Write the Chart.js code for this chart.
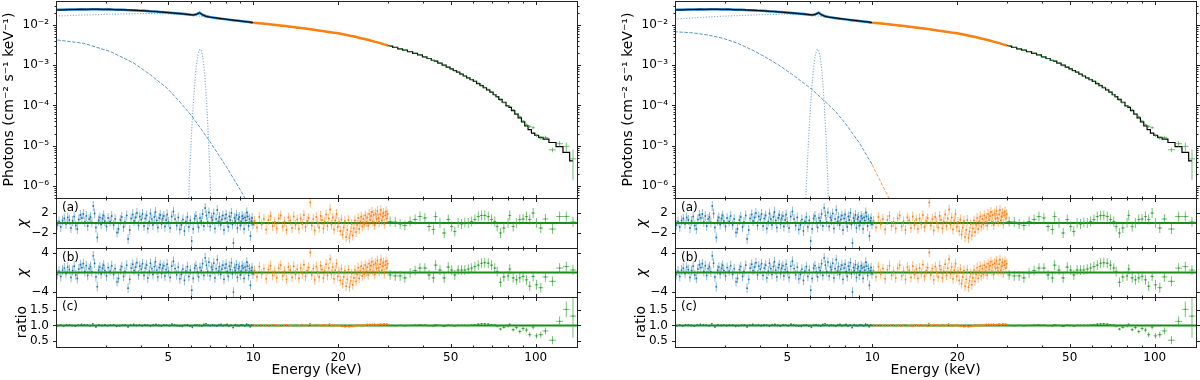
<!DOCTYPE html>
<html>
<head>
<meta charset="utf-8">
<title>Spectral fits</title>
<script src="https://cdn.jsdelivr.net/npm/chart.js@4.4.1/dist/chart.umd.min.js"></script>
<style>
  html, body { margin: 0; padding: 0; background: #fff; }
  #fig { position: relative; width: 1200px; height: 380px; overflow: hidden; }
  #fig canvas { position: absolute; }
</style>
</head>
<body>
<div id="fig"></div>
<script>
// ---- axes ----
const xMin = 2.0, xMax = 140;
const xTicks = [5, 10, 20, 50, 100];
const xTickLabels = ['5', '10', '20', '50', '100'];
const xMinorTicks = [3, 4, 6, 7, 8, 9, 30, 40, 60, 70, 80, 90];

const fluxMin = 5.0e-7, fluxMax = 0.0395;
const fluxTicks = [1e-6, 1e-5, 1e-4, 1e-3, 1e-2];
const fluxTickLabels = ['10⁻⁶', '10⁻⁵', '10⁻⁴', '10⁻³', '10⁻²'];
const chiTicksA = [-2, 2], chiLabelsA = ['−2', '2'];
const chiTicksB = [-4, 4], chiLabelsB = ['−4', '4'];
const ratioTicks = [0.5, 1.0, 1.5], ratioLabels = ['0.5', '1.0', '1.5'];

// ---- total model (both fits) ----
const modelE = [2.0, 2.3, 2.6, 3.0, 3.5, 4.0, 4.5, 5.0, 5.5, 5.9, 6.15, 6.3, 6.45, 6.6, 6.8, 7.0, 7.5, 8.0, 9.0, 10.0, 12.0, 15.0, 20.0, 25.0, 30.5];
const modelFlux = [0.0235, 0.0242, 0.0246, 0.0245, 0.0238, 0.0228, 0.0216, 0.0203, 0.0192, 0.0183, 0.0178, 0.0186, 0.0200, 0.0180, 0.0164, 0.0157, 0.0148, 0.0139, 0.0126, 0.0115, 0.0099, 0.0082, 0.0062, 0.0044, 0.0030];

// unfolded data, soft band
const blueSpecE = [2.02, 2.12, 2.22, 2.33, 2.44, 2.56, 2.68, 2.81, 2.95, 3.09, 3.24, 3.40, 3.56, 3.73, 3.91, 4.10, 4.30, 4.51, 4.73, 4.96, 5.20, 5.45, 5.71, 5.99, 6.15, 6.30, 6.45, 6.60, 6.80, 7.05, 7.35, 7.70, 8.05, 8.45, 8.85, 9.25, 9.65, 9.95];
const blueSpecFlux = [0.0238, 0.0240, 0.0243, 0.0242, 0.0247, 0.0244, 0.0248, 0.0246, 0.0244, 0.0245, 0.0241, 0.0240, 0.0236, 0.0234, 0.0229, 0.0226, 0.0220, 0.0216, 0.0209, 0.0204, 0.0198, 0.0193, 0.0188, 0.0181, 0.0178, 0.0186, 0.0201, 0.0180, 0.0165, 0.0157, 0.0150, 0.0143, 0.0138, 0.0132, 0.0127, 0.0122, 0.0118, 0.0114];
const orangeSpecE = [10, 11, 12, 13, 14, 15, 16, 17, 18, 19, 20, 21, 22, 23, 24, 25, 26, 27, 28, 29, 30];
const orangeSpecFlux = [0.0114, 0.0107, 0.0100, 0.0094, 0.0088, 0.0083, 0.0078, 0.0073, 0.0069, 0.0065, 0.0062, 0.0058, 0.0054, 0.0051, 0.0047, 0.0044, 0.0041, 0.0038, 0.0036, 0.0033, 0.0031];

// hard band bins
const greenE = [30.5, 31.8, 33.1, 34.4, 35.9, 37.4, 38.9, 40.5, 41.9, 43.4, 44.2, 45.8, 47.4, 49.0, 50.4, 51.7, 53.1, 54.6, 56.1, 57.7, 59.3, 60.9, 62.6, 64.3, 66.0, 67.9, 69.7, 71.6, 73.0, 75.0, 77.1, 79.8, 80.9, 83.2, 85.4, 87.8, 90.2, 92.7, 95.2, 97.9, 100.6, 104.2, 108.2, 114.6, 121.5, 128.3, 135.5];
const greenXerr = [0.62, 0.64, 0.66, 0.68, 0.70, 0.73, 0.76, 0.78, 0.75, 0.65, 0.75, 0.80, 0.82, 0.80, 0.70, 0.70, 0.72, 0.75, 0.78, 0.80, 0.82, 0.85, 0.85, 0.88, 0.90, 0.95, 0.95, 0.85, 0.90, 1.00, 1.20, 0.80, 0.90, 1.15, 1.20, 1.20, 1.25, 1.25, 1.30, 1.40, 1.50, 2.00, 2.60, 3.30, 3.40, 3.40, 3.60];
const greenModel = [3.0e-3, 2.78e-3, 2.56e-3, 2.37e-3, 2.17e-3, 1.98e-3, 1.80e-3, 1.62e-3, 1.47e-3, 1.33e-3, 1.26e-3, 1.13e-3, 1.01e-3, 9.0e-4, 8.1e-4, 7.4e-4, 6.7e-4, 6.0e-4, 5.4e-4, 4.85e-4, 4.4e-4, 3.95e-4, 3.5e-4, 3.1e-4, 2.75e-4, 2.45e-4, 2.15e-4, 1.85e-4, 1.65e-4, 1.42e-4, 1.2e-4, 9.8e-5, 9.0e-5, 7.4e-5, 6.1e-5, 4.9e-5, 3.9e-5, 3.1e-5, 2.5e-5, 2.05e-5, 1.8e-5, 1.6e-5, 1.45e-5, 1.2e-5, 9.5e-6, 6.8e-6, 4.2e-6];
const greenFlux = [3.02e-3, 2.77e-3, 2.55e-3, 2.35e-3, 2.18e-3, 2.0e-3, 1.83e-3, 1.63e-3, 1.45e-3, 1.30e-3, 1.29e-3, 1.13e-3, 0.97e-3, 9.1e-4, 8.0e-4, 7.2e-4, 6.7e-4, 6.0e-4, 5.4e-4, 4.85e-4, 4.42e-4, 4.0e-4, 3.6e-4, 3.2e-4, 2.85e-4, 2.52e-4, 2.18e-4, 1.87e-4, 1.63e-4, 1.36e-4, 1.17e-4, 9.8e-5, 9.4e-5, 7.8e-5, 6.1e-5, 5.3e-5, 4.1e-5, 3.3e-5, 3.0e-5, 2.8e-5, 1.8e-5, 1.55e-5, 1.6e-5, 7.9e-6, 1.12e-5, 9.6e-6, 4.7e-6];

// model components, left fit / right fit
const contE = [2.0, 2.5, 3.0, 3.5, 4.0, 4.5, 5.0, 5.5, 6.0, 7.0, 8.0, 10.0];
const contFluxL = [0.0167, 0.0177, 0.0184, 0.0189, 0.0192, 0.0192, 0.0190, 0.0185, 0.0176, 0.0155, 0.0138, 0.0114];
const contFluxR = [0.0141, 0.0155, 0.0166, 0.0174, 0.0180, 0.0184, 0.0186, 0.0183, 0.0176, 0.0155, 0.0138, 0.0114];
const softEL = [2.02, 2.51, 3.12, 3.78, 4.32, 4.95, 5.5, 6.07, 6.95, 8.07, 9.12, 9.4];
const softFluxL = [4.24e-3, 3.5e-3, 2.18e-3, 1.12e-3, 5.75e-4, 2.68e-4, 1.21e-4, 5.3e-5, 1.4e-5, 2.8e-6, 6.7e-7, 4.5e-7];
const softER = [1.99, 2.3, 2.61, 2.95, 3.34, 3.75, 4.16, 4.65, 5.17, 6.10, 6.80, 7.4, 8.02, 9.0, 9.98];
const softFluxR = [6.8e-3, 6.4e-3, 5.65e-3, 4.7e-3, 3.5e-3, 2.4e-3, 1.63e-3, 1.02e-3, 6.1e-4, 2.53e-4, 1.25e-4, 7.1e-5, 3.6e-5, 1.16e-5, 3.4e-6];
const softHardER = [9.98, 11.5];
const softHardFluxR = [3.4e-6, 4.6e-7];
const lineEL = [5.86, 5.93, 6.03, 6.13, 6.23, 6.28, 6.33, 6.38, 6.43, 6.48, 6.53, 6.58, 6.63, 6.68, 6.73, 6.83, 6.93, 7.03, 7.10];
const lineER = [5.78, 5.85, 5.95, 6.05, 6.15, 6.20, 6.25, 6.30, 6.35, 6.40, 6.45, 6.50, 6.55, 6.60, 6.65, 6.75, 6.85, 6.95, 7.02];
const lineFlux = [1.9e-7, 1.4e-6, 1.67e-5, 1.2e-4, 5.3e-4, 9.3e-4, 1.43e-3, 1.95e-3, 2.35e-3, 2.5e-3, 2.35e-3, 1.95e-3, 1.43e-3, 9.3e-4, 5.3e-4, 1.2e-4, 1.67e-5, 1.4e-6, 1.9e-7];

// ---- residuals (chi: panels a, b) ----
const blueE = [2.02, 2.05, 2.08, 2.11, 2.14, 2.17, 2.20, 2.23, 2.26, 2.29, 2.32, 2.35, 2.38, 2.41, 2.44, 2.47, 2.50, 2.53, 2.56, 2.59, 2.62, 2.65, 2.68, 2.71, 2.74, 2.77, 2.80, 2.83, 2.86, 2.89, 2.92, 2.95, 2.98,
  3.02, 3.06, 3.11, 3.15, 3.20, 3.24, 3.29, 3.33, 3.38, 3.42, 3.47, 3.51, 3.56, 3.60, 3.65, 3.69, 3.74, 3.78, 3.83, 3.87, 3.92, 3.96, 4.01, 4.05, 4.10, 4.14, 4.19, 4.23, 4.28, 4.32, 4.37, 4.41, 4.46, 4.50, 4.55, 4.59, 4.64, 4.68, 4.73, 4.77, 4.82, 4.86, 4.91, 4.95,
  5.00, 5.07, 5.14, 5.21, 5.28, 5.35, 5.42, 5.49, 5.56, 5.63, 5.70, 5.77, 5.84, 5.91, 5.98, 6.05, 6.12, 6.19, 6.26, 6.33, 6.40, 6.47, 6.54, 6.61, 6.68, 6.75, 6.82, 6.89, 6.96, 7.03, 7.10, 7.17, 7.24, 7.31, 7.38, 7.45, 7.52, 7.59, 7.66, 7.73, 7.80, 7.87, 7.94, 8.01, 8.08, 8.15, 8.22, 8.29, 8.36, 8.43, 8.50, 8.57, 8.64, 8.71, 8.78, 8.85, 8.92, 8.99, 9.06, 9.13, 9.20, 9.27, 9.34, 9.41, 9.48, 9.55, 9.62, 9.69, 9.76, 9.83, 9.90, 9.97];
const blueChi = [-0.4, 0.3, -0.8, 0.5, 0.9, -0.2, 1.1, 0.6, -1.0, 0.4, 1.3, -0.5, -1.2, 0.7, 1.6, 1.0, 1.8, 0.2, 1.4, -0.6, 0.8, 1.2, 0.1, 3.4, 1.9, -0.9, -2.9, 0.5, 1.1, -0.3, 0.9, 1.5, 0.4,
  -0.7, 1.0, 0.3, 1.4, -0.4, 0.8, -1.9, -1.2, 0.6, 1.2, -0.8, 0.2, 1.5, -3.2, -1.4, 0.9, 1.7, 0.4, 1.1, 2.0, -0.5, 1.3, 0.7, 1.8, -0.6, 0.9, 1.5, -1.1, 0.3, 1.9, 0.8, -0.4, 1.2, 2.2, 0.5, -0.9, 1.0, 1.6, -0.2, 0.9, 1.4, -0.7, 0.6, 1.7,
  0.2, -1.0, 1.3, 2.3, 0.8, -0.5, 1.1, -1.3, -0.4, 0.7, -1.6, 0.3, 1.2, -0.8, 0.5, -3.6, -1.2, 0.9, 1.4, 0.1, -0.9, 1.0, 0.4, 1.8, -0.6, 3.0, 1.5, 0.2, 2.1, -0.7, 1.1, 0.6, 1.9, -1.1, 0.8, 2.6, 0.3, 1.2, -0.4, 0.7, 1.5, -1.4, 0.9, 1.7, 0.2, -0.8, 1.3, 0.6, 2.0, -0.3, -4.0, 1.0, 0.4, 1.6, -1.0, 0.8, 1.2, -0.5, 0.3, 1.4, 0.9, -1.2, 1.1, 0.5, 2.1, 1.3, -0.6, 0.8, -2.6, 0.4, 1.0, -0.3];

const orangeE = [10.1, 10.3, 10.5, 10.7, 10.9, 11.1, 11.3, 11.5, 11.7, 11.9, 12.1, 12.3, 12.5, 12.7, 12.9, 13.1, 13.3, 13.5, 13.7, 13.9, 14.1, 14.3, 14.5, 14.7, 14.9, 15.1, 15.3, 15.5, 15.7, 15.9, 16.1, 16.3, 16.5, 16.7, 16.9, 17.1, 17.3, 17.5, 17.7, 17.9, 18.1, 18.3, 18.5, 18.7, 18.9, 19.1, 19.3, 19.5, 19.7, 19.9,
  20.1, 20.3, 20.5, 20.7, 20.9, 21.1, 21.3, 21.5, 21.7, 21.9, 22.1, 22.3, 22.5, 22.7, 22.9, 23.1, 23.3, 23.5, 23.7, 23.9, 24.1, 24.3, 24.5, 24.7, 24.9, 25.1, 25.3, 25.5, 25.7, 25.9, 26.1, 26.3, 26.5, 26.7, 26.9, 27.1, 27.3, 27.5, 27.7, 27.9, 28.1, 28.3, 28.5, 28.7, 28.9, 29.1, 29.3, 29.5, 29.7, 29.9];
const orangeChi = [0.4, -0.9, 1.2, -0.3, 0.8, -1.3, 0.6, 1.4, -0.6, 0.2, -1.1, 0.9, 1.5, -0.7, 0.3, -1.4, 1.1, 0.5, -1.0, 1.3, -0.4, 0.7, -1.2, 0.9, -0.2, 1.6, -0.8, 0.4, 1.0, 4.1, -0.5, 0.8, -1.5, 1.2, 0.1, -0.9, 1.4, 0.6, -1.1, 0.3, 1.7, -0.6, 0.9, 2.7, -0.3, 1.1, -1.3, 0.5, 1.8, -0.8,
  0.2, -1.6, 0.7, -2.3, -0.9, 0.4, -2.8, -1.4, 0.6, -3.0, -1.7, -0.2, -2.5, -1.1, 0.5, -1.8, -0.4, 1.0, -1.2, 0.3, 1.3, -0.7, 0.8, -0.3, 1.5, 0.2, 1.1, -0.5, 1.8, 0.6, 1.4, 2.2, 0.3, 1.6, -0.4, 1.9, 0.8, 2.4, 1.0, 0.2, 1.7, 2.6, 0.5, 1.3, 2.0, -0.2, 1.5, 2.3, 0.9, 1.8];

const greenChiA = [0.3, 0.2, -0.2, -0.5, 0.3, 0.7, 1.3, 1.0, -0.7, -1.3, 1.3, 0.0, -2.0, 0.7, -0.7, -1.7, 0.0, -0.2, 0.1, 0.0, 0.3, 0.7, 1.3, 1.5, 1.5, 1.3, 0.7, 0.3, -0.7, -2.0, -1.0, 0.0, 1.5, -0.7, 0.0, 0.7, 0.8, 1.3, 0.7, 2.0, 0.0, -1.0, 0.8, -1.2, 1.3, 1.3, 0.2];
const greenChiB = [-0.5, -0.7, -0.7, -1.1, -0.1, 0.4, 0.9, 0.9, -0.5, -1.1, 1.5, 0.5, -1.1, 1.1, 0.5, -0.5, 0.5, 0.5, 0.5, 0.7, 0.9, 1.2, 1.5, 1.9, 2.0, 1.9, 1.5, 0.9, 0.2, -2.0, -0.9, -0.7, 0.7, -1.1, -1.5, -1.1, -0.8, -1.5, -2.8, -0.8, -2.5, -3.1, -0.9, -1.8, 0.9, 1.2, 0.5];
const chiErr = 1.0;

// ---- residuals (data/model: panel c) ----
const blueRatioE = [2.03, 2.08, 2.13, 2.18, 2.23, 2.28, 2.34, 2.40, 2.46, 2.52, 2.58, 2.64, 2.70, 2.77, 2.84, 2.91, 2.98, 3.05, 3.12, 3.20, 3.28, 3.36, 3.44, 3.52, 3.60, 3.68, 3.77, 3.86, 3.95, 4.04, 4.13, 4.22, 4.32, 4.42, 4.52, 4.62, 4.72, 4.82, 4.93, 5.04, 5.15, 5.26, 5.37, 5.48, 5.60, 5.72, 5.84, 5.96, 6.08, 6.20, 6.32, 6.44, 6.56, 6.68, 6.80, 6.92, 7.04, 7.16, 7.29, 7.42, 7.55, 7.68, 7.81, 7.94, 8.07, 8.20, 8.34, 8.48, 8.62, 8.76, 8.90, 9.04, 9.18, 9.32, 9.46, 9.60, 9.74, 9.88];
const blueRatio = [0.99, 1.01, 0.98, 1.02, 1.02, 1.00, 0.98, 1.01, 1.03, 1.02, 1.01, 0.99, 1.05, 0.95, 1.02, 1.00, 1.02, 0.99, 1.01, 1.02, 0.97, 0.99, 1.01, 1.02, 0.95, 1.01, 1.03, 1.00, 1.02, 0.99, 1.02, 1.01, 0.98, 1.02, 1.03, 1.00, 0.98, 1.02, 1.01, 0.99, 1.04, 1.02, 0.99, 0.98, 0.97, 1.01, 1.02, 0.98, 0.94, 1.01, 1.02, 1.00, 0.98, 1.03, 1.05, 1.01, 0.99, 1.02, 1.00, 0.98, 1.02, 1.03, 0.99, 1.01, 1.03, 0.98, 1.01, 0.93, 1.02, 1.00, 0.99, 1.02, 1.01, 0.98, 1.04, 1.02, 0.96, 1.01];
const orangeRatioE = [10.10, 10.35, 10.60, 10.85, 11.10, 11.35, 11.60, 11.85, 12.10, 12.35, 12.60, 12.85, 13.10, 13.35, 13.60, 13.85, 14.10, 14.35, 14.60, 14.85, 15.10, 15.35, 15.60, 15.85, 16.10, 16.35, 16.60, 16.85, 17.10, 17.35, 17.60, 17.85, 18.10, 18.35, 18.60, 18.85, 19.10, 19.35, 19.60, 19.85, 20.10, 20.35, 20.60, 20.85, 21.10, 21.35, 21.60, 21.85, 22.10, 22.35, 22.60, 22.85, 23.10, 23.35, 23.60, 23.85, 24.10, 24.35, 24.60, 24.85, 25.10, 25.35, 25.60, 25.85, 26.10, 26.35, 26.60, 26.85, 27.10, 27.35, 27.60, 27.85, 28.10, 28.35, 28.60, 28.85, 29.10, 29.35, 29.60, 29.85];
const orangeRatio = [1.01, 0.99, 1.02, 1.00, 1.01, 0.98, 1.01, 1.02, 0.99, 1.00, 0.98, 1.01, 1.02, 0.99, 1.00, 0.98, 1.01, 1.01, 0.99, 1.02, 0.99, 1.01, 0.98, 1.06, 1.00, 0.99, 1.02, 1.00, 1.01, 0.98, 1.01, 1.02, 0.99, 1.00, 1.04, 0.99, 1.02, 0.98, 1.00, 1.01, 0.99, 0.98, 0.97, 0.98, 0.96, 0.97, 0.98, 0.96, 0.97, 0.97, 0.99, 0.98, 1.01, 0.99, 1.01, 1.00, 0.99, 1.02, 1.00, 1.00, 1.02, 1.03, 1.01, 1.03, 1.02, 1.03, 1.01, 1.04, 1.02, 1.02, 1.03, 1.02, 1.04, 1.03, 1.02, 1.04, 1.05, 1.02, 1.04, 1.03];
const greenRatio = [1.00, 0.99, 1.00, 0.99, 1.00, 1.01, 1.02, 1.01, 0.99, 0.98, 1.02, 1.00, 0.97, 1.01, 1.00, 0.98, 1.00, 1.00, 1.00, 1.00, 1.01, 1.02, 1.04, 1.05, 1.05, 1.04, 1.02, 1.01, 0.97, 0.88, 0.94, 0.98, 1.03, 0.86, 0.93, 0.80, 0.90, 0.85, 0.70, 0.95, 0.66, 0.70, 0.82, 0.52, 1.13, 1.52, 1.30];
const greenRatioErr = [0.012, 0.012, 0.013, 0.013, 0.014, 0.014, 0.015, 0.015, 0.016, 0.017, 0.017, 0.018, 0.019, 0.020, 0.020, 0.021, 0.022, 0.023, 0.024, 0.025, 0.026, 0.027, 0.028, 0.030, 0.030, 0.032, 0.034, 0.036, 0.040, 0.042, 0.045, 0.050, 0.050, 0.055, 0.060, 0.065, 0.070, 0.075, 0.080, 0.085, 0.090, 0.100, 0.110, 0.130, 0.160, 0.250, 0.700];
const blueRatioErr = 0.03, orangeRatioErr = 0.025;

// ---- look ----
const C = {
  blue: '#1f77b4', blueBar: 'rgba(31,119,180,0.5)',
  orange: '#ff7f0e', orangeBar: 'rgba(255,127,14,0.55)',
  green: '#2ca02c', greenBar: 'rgba(44,160,44,0.65)',
  zero: '#1a8c1a', comp: 'rgba(31,119,180,0.55)', soft: 'rgba(31,119,180,0.75)'
};
Chart.defaults.font.family = "'DejaVu Sans', sans-serif";
Chart.defaults.color = '#000';

const fig = document.getElementById('fig');
const CANVAS_W = 581, AXIS_W = 56;
const PANEL_LEFT = [0, 619];
const ROWS = [
  { top: 0, height: 200, padTop: 1, padBottom: 2 },
  { top: 194, height: 58, padTop: 4, padBottom: 4 },
  { top: 244, height: 58, padTop: 4, padBottom: 5 },
  { top: 293, height: 87, padTop: 4, padBottom: 0 }
];

// frame, ticks on all sides, panel tag, error bars
const framePlugin = {
  id: 'frame',
  afterDatasetDraw(chart, args) {
    const ds = chart.data.datasets[args.index];
    if (ds.errY == null && ds.errX == null) return;
    const { ctx, chartArea: a, scales: { x, y } } = chart;
    ctx.save();
    ctx.beginPath();
    ctx.rect(a.left, a.top, a.right - a.left, a.bottom - a.top);
    ctx.clip();
    ctx.strokeStyle = ds.barColor;
    ctx.lineWidth = 1;
    ctx.beginPath();
    ds.data.forEach((p, i) => {
      const px = x.getPixelForValue(p.x), py = y.getPixelForValue(p.y);
      const ey = Array.isArray(ds.errY) ? ds.errY[i] : ds.errY;
      const ex = Array.isArray(ds.errX) ? ds.errX[i] : ds.errX;
      if (ey) {
        const lo = p.y - ey > 0 || y.type !== 'logarithmic' ? p.y - ey : y.min;
        ctx.moveTo(px, y.getPixelForValue(lo));
        ctx.lineTo(px, y.getPixelForValue(p.y + ey));
      }
      if (ex) {
        ctx.moveTo(x.getPixelForValue(p.x - ex), py);
        ctx.lineTo(x.getPixelForValue(p.x + ex), py);
      }
    });
    ctx.stroke();
    ctx.restore();
  },
  afterDraw(chart, args, opts) {
    const { ctx, chartArea: a, scales: { x, y } } = chart;
    const x0 = Math.round(a.left) + 0.5, x1 = Math.round(a.right) + 0.5;
    const y0 = Math.round(a.top) + 0.5, y1 = Math.round(a.bottom) + 0.5;
    ctx.save();
    ctx.strokeStyle = '#222';
    ctx.lineWidth = 1;
    ctx.strokeRect(x0, y0, x1 - x0, y1 - y0);
    ctx.beginPath();
    const vt = (vals, len) => vals.forEach(v => {
      const px = Math.round(x.getPixelForValue(v)) + 0.5;
      ctx.moveTo(px, y0); ctx.lineTo(px, y0 + len);
      ctx.moveTo(px, y1); ctx.lineTo(px, y1 - len);
    });
    const ht = (vals, len) => vals.forEach(v => {
      if (v < y.min || v > y.max) return;
      const py = Math.round(y.getPixelForValue(v)) + 0.5;
      ctx.moveTo(x0 - len, py); ctx.lineTo(x0, py);
      ctx.moveTo(x1, py); ctx.lineTo(x1 + len, py);
    });
    vt(xTicks, 3.5);
    vt(xMinorTicks, 2);
    ht(opts.yTicks, 3.5);
    if (opts.logMinor) {
      const minor = [];
      for (let e = -7; e <= -2; e++) for (let k = 2; k <= 9; k++) minor.push(k * Math.pow(10, e));
      ht(minor, 2);
    }
    ctx.stroke();
    if (opts.tag) {
      ctx.fillStyle = '#000';
      ctx.font = "12px 'DejaVu Sans'";
      ctx.textBaseline = 'top';
      ctx.fillText(opts.tag, a.left + 6, a.top + 4);
    }
    ctx.restore();
  }
};

const pts = (xs, ys) => xs.map((v, i) => ({ x: v, y: ys[i] }));
function curve(xs, ys, color, width, dash, order, stepped) {
  return { data: pts(xs, ys), showLine: true, borderColor: color, borderWidth: width,
           borderDash: dash || [], pointRadius: 0, order: order, stepped: stepped || false };
}
function marks(xs, ys, color, barColor, errY, errX, order, r) {
  return { data: pts(xs, ys), showLine: false, pointRadius: r, pointBackgroundColor: color,
           pointBorderWidth: 0, barColor: barColor, errY: errY, errX: errX, order: order };
}

// keep the plot boxes where we put them: no extra room for edge labels
function noEdgePadding(s) {
  s.paddingTop = 0; s.paddingBottom = 0; s.paddingLeft = 0; s.paddingRight = 0;
}

function xAxis(show) {
  return {
    type: 'logarithmic', min: xMin, max: xMax, display: show,
    grid: { display: false, drawTicks: false }, border: { display: false },
    afterBuildTicks: s => { s.ticks = xTicks.map(v => ({ value: v })); },
    afterFit: s => { if (show) s.height = 33; noEdgePadding(s); },
    ticks: { autoSkip: false, maxRotation: 0, minRotation: 0, padding: 4, font: { size: 12 },
             callback: (v, i) => xTickLabels[i] },
    title: { display: show, text: 'Energy (keV)', font: { size: 14 }, padding: { top: 0, bottom: 1 } }
  };
}
function yAxis(type, min, max, ticks, labels, title, titlePad, italic) {
  return {
    type: type, min: min, max: max,
    grid: { display: false, drawTicks: false }, border: { display: false },
    afterBuildTicks: s => { s.ticks = ticks.map(v => ({ value: v })); },
    afterFit: s => { s.width = AXIS_W; noEdgePadding(s); },
    ticks: { autoSkip: false, padding: 7, font: { size: 12 }, callback: (v, i) => labels[i] },
    title: { display: true, text: title, font: { size: 14, style: italic ? 'italic' : 'normal' },
             padding: { top: titlePad, bottom: 0 } }
  };
}

function addChart(left, row, datasets, y, frame, showX) {
  const cv = document.createElement('canvas');
  cv.width = CANVAS_W;
  cv.height = row.height;
  cv.style.left = left + 'px';
  cv.style.top = row.top + 'px';
  fig.appendChild(cv);
  return new Chart(cv, {
    type: 'scatter',
    data: { datasets: datasets },
    options: {
      responsive: false, animation: false, devicePixelRatio: 1, events: [],
      layout: { padding: { left: 0, right: 4, top: row.padTop, bottom: row.padBottom } },
      plugins: { legend: { display: false }, tooltip: { enabled: false }, frame: frame },
      scales: { x: xAxis(showX), y: y }
    },
    plugins: [framePlugin]
  });
}

function residualSets(bx, by, ox, oy, gy, bErr, oErr, gErr, base) {
  return [
    marks(greenE, gy, C.green, C.greenBar, gErr, greenXerr, 0, 0.8),
    marks(ox, oy, C.orange, C.orangeBar, oErr, null, 1, 0.9),
    curve([xMin, xMax], [base, base], C.zero, 2, null, 2),
    marks(bx, by, C.blue, C.blueBar, bErr, null, 3, 0.9)
  ];
}

function drawPanel(side) {
  const left = PANEL_LEFT[side];
  const main = [
    marks(greenE, greenFlux, C.green, C.greenBar, greenFlux.map((f, i) => f * greenRatioErr[i]), greenXerr, 0, 0),
    curve(greenE, greenModel, '#000', 1.2, null, 1, 'middle'),
    curve(orangeSpecE, orangeSpecFlux, C.orange, 2.5, null, 2),
    curve(modelE, modelFlux, '#000', 1, null, 3),
    curve(blueSpecE, blueSpecFlux, C.blue, 2.5, null, 4),
    curve(side ? lineER : lineEL, lineFlux, C.comp, 1.2, [1.2, 1.6], 5),
    curve(side ? softER : softEL, side ? softFluxR : softFluxL, C.soft, 1, [3.5, 1.5], 5),
    curve(contE, side ? contFluxR : contFluxL, C.comp, 1.2, [1.2, 1.6], 5)
  ];
  if (side) main.push(curve(softHardER, softHardFluxR, 'rgba(255,127,14,0.75)', 1, [3.5, 1.5], 5));

  addChart(left, ROWS[0], main,
    yAxis('logarithmic', fluxMin, fluxMax, fluxTicks, fluxTickLabels, 'Photons (cm⁻² s⁻¹ keV⁻¹)', 1, false),
    { yTicks: fluxTicks, logMinor: true }, false);
  addChart(left, ROWS[1], residualSets(blueE, blueChi, orangeE, orangeChi, greenChiA, chiErr, chiErr, chiErr, 0),
    yAxis('linear', -5, 5, chiTicksA, chiLabelsA, 'χ', 14.5, true),
    { yTicks: chiTicksA, tag: '(a)' }, false);
  addChart(left, ROWS[2], residualSets(blueE, blueChi, orangeE, orangeChi, greenChiB, chiErr, chiErr, chiErr, 0),
    yAxis('linear', -5, 5, chiTicksB, chiLabelsB, 'χ', 14.5, true),
    { yTicks: chiTicksB, tag: '(b)' }, false);
  addChart(left, ROWS[3], residualSets(blueRatioE, blueRatio, orangeRatioE, orangeRatio, greenRatio, blueRatioErr, orangeRatioErr, greenRatioErr, 1),
    yAxis('linear', 0.3, 1.92, ratioTicks, ratioLabels, 'ratio', 14, false),
    { yTicks: ratioTicks, tag: '(c)' }, true);
}

drawPanel(0);
drawPanel(1);
</script>
</body>
</html>
